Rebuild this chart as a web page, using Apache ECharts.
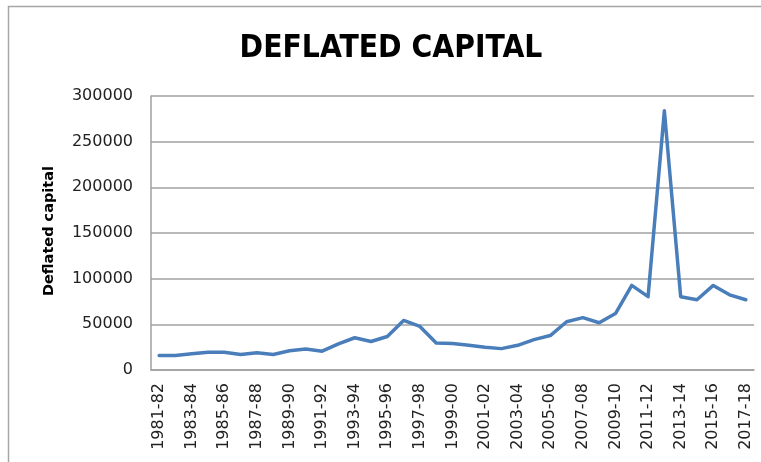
<!DOCTYPE html>
<html>
<head>
<meta charset="utf-8">
<script src="https://cdn.jsdelivr.net/npm/echarts@6/dist/echarts.min.js"></script>
<style>
  html, body { margin: 0; padding: 0; background: #ffffff; }
  #chart { width: 761px; height: 462px; }
</style>
</head>
<body>
<div id="chart"></div>
<script>
// Financial years 1981-82 .. 2017-18
const years = [
  '1981-82','1982-83','1983-84','1984-85','1985-86','1986-87','1987-88','1988-89',
  '1989-90','1990-91','1991-92','1992-93','1993-94','1994-95','1995-96','1996-97',
  '1997-98','1998-99','1999-00','2000-01','2001-02','2002-03','2003-04','2004-05',
  '2005-06','2006-07','2007-08','2008-09','2009-10','2010-11','2011-12','2012-13',
  '2013-14','2014-15','2015-16','2016-17','2017-18'
];

// Deflated capital per year
const deflatedCapital = [
  15900, 15800, 17800, 19500, 19500, 17000, 18800, 17000,
  21000, 23000, 20600, 28500, 35300, 31200, 36700, 54300,
  47700, 29600, 28900, 27000, 24800, 23400, 27000, 33300,
  37700, 52800, 57300, 51700, 61800, 92600, 80300, 283800,
  80300, 76900, 92600, 82300, 76900
];

const yTicks = { min: 0, max: 300000, step: 50000 };

const chart = echarts.init(document.getElementById('chart'), null, { renderer: 'canvas' });

chart.setOption({
  backgroundColor: '#ffffff',
  animation: false,
  graphic: [
    {
      type: 'rect',
      shape: { x: 8.5, y: 6.5, width: 800, height: 500 },
      style: { fill: 'none', stroke: '#a6a6a6', lineWidth: 1.5 },
      silent: true
    },
    {
      type: 'text',
      x: 391,
      y: 49,
      style: {
        text: 'DEFLATED CAPITAL',
        fontFamily: '"DejaVu Sans Condensed", "Liberation Sans Narrow", sans-serif',
        fontWeight: 'bold',
        fontSize: 31.5,
        fill: '#000000',
        align: 'center',
        verticalAlign: 'middle'
      }
    },
    {
      type: 'text',
      x: 49,
      y: 231,
      rotation: Math.PI / 2,
      style: {
        text: 'Deflated capital',
        fontFamily: '"DejaVu Sans", sans-serif',
        fontWeight: 'bold',
        fontSize: 14.5,
        fill: '#000000',
        align: 'center',
        verticalAlign: 'middle'
      }
    }
  ],
  grid: { left: 151, right: 7, top: 96, bottom: 92 },
  xAxis: {
    type: 'category',
    data: years,
    boundaryGap: true,
    axisLine: { show: true, lineStyle: { color: '#a0a0a0', width: 1.5 } },
    axisTick: { show: false },
    axisLabel: {
      interval: 1,
      rotate: 90,
      margin: 13,
      fontFamily: '"DejaVu Sans", Verdana, sans-serif',
      fontSize: 16,
      color: '#222222'
    },
    splitLine: { show: false }
  },
  yAxis: {
    type: 'value',
    min: yTicks.min,
    max: yTicks.max,
    interval: yTicks.step,
    axisLine: { show: true, lineStyle: { color: '#a0a0a0', width: 1.5 } },
    axisTick: { show: false },
    axisLabel: {
      margin: 18,
      formatter: (v) => String(v),
      fontFamily: '"DejaVu Sans", Verdana, sans-serif',
      fontSize: 16,
      color: '#222222'
    },
    splitLine: { show: true, lineStyle: { color: '#a0a0a0', width: 1.5 } }
  },
  series: [{
    type: 'line',
    data: deflatedCapital,
    showSymbol: false,
    symbol: 'none',
    smooth: false,
    lineStyle: { color: '#4a7ebb', width: 3.5, join: 'round', cap: 'round' }
  }]
});
</script>
</body>
</html>
